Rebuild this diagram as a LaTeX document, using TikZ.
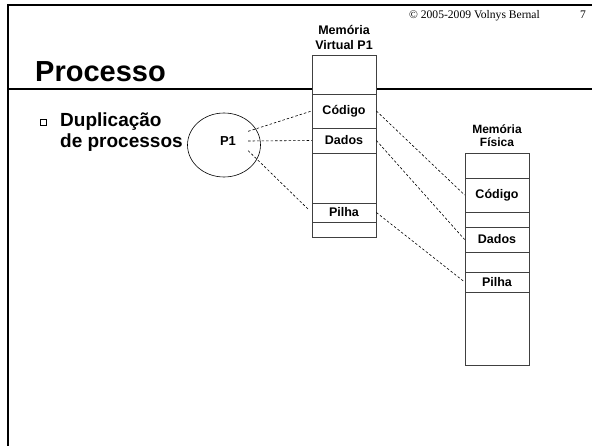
\documentclass[tikz,border=0pt]{standalone}
\usepackage{fontspec}
\setmainfont{Liberation Sans}
\newfontfamily\timesfont{Liberation Serif}
\usetikzlibrary{shapes.geometric,positioning}

\tikzset{
  frameline/.style={line width=2pt},
  membox/.style={draw=black!75, line width=0.8pt, fill=white},
  cell/.style={draw=black!75, line width=0.8pt, minimum width=64pt, inner sep=0pt,
    font=\fontsize{12.5}{12.5}\selectfont\bfseries},
  link/.style={line width=0.6pt, dash pattern=on 2.5pt off 2pt},
  memlabel/.style={align=center, inner sep=0pt, font=\fontsize{12.5}{15}\selectfont\bfseries}
}

\begin{document}
\begin{tikzpicture}[x=1pt,y=-1pt]
    \useasboundingbox (0,0) rectangle (592,446);

    % Slide frame
    \draw[frameline] (7,5) -- (592,5);
    \draw[frameline] (7.5,5) -- (7.5,446);
    \draw[frameline] (7,89) -- (592,89);

    \node[anchor=base, font=\timesfont\fontsize{11.6}{11.6}\selectfont] (copy) at (474.5,19) {© 2005-2009 Volnys Bernal};
    \node[anchor=base, font=\timesfont\fontsize{11.6}{11.6}\selectfont] (page) at (583,19) {7};

    % Title and bullet
    \node[anchor=base west, inner sep=0pt, font=\fontsize{29}{29}\selectfont\bfseries] (title) at (35,82) {Processo};
    \draw[line width=0.6pt] (40,119) rectangle (46,125);
    \draw[line width=1pt] (41,125.5) -- (46.5,125.5) -- (46.5,120);
    \node[anchor=base west, inner sep=0pt, font=\fontsize{19}{19}\selectfont\bfseries] (dup1) at (60,127) {Duplicação};
    \node[anchor=base west, inner sep=0pt, font=\fontsize{19}{19}\selectfont\bfseries] (dup2) at (60,148) {de processos};

    % Process P1
    \node[draw, ellipse, line width=0.6pt, minimum width=73pt, minimum height=64pt] (proc) at (224,145) {};
    \node[inner xsep=12pt, inner ysep=5pt, font=\fontsize{13}{13}\selectfont\bfseries] (p1) at (228,141) {P1};

    % Virtual memory of P1
    \node[memlabel] (vlabel) at (344,37.5) {Memória\\Virtual P1};
    \draw[membox] (312,55) rectangle (376,237);
    \draw[black!75, line width=0.8pt] (312,94) -- (376,94);
    \node[cell, minimum height=34pt] (vcod) at (344,111) {Código};
    \node[cell, minimum height=25pt] (vdat) at (344,140.5) {Dados};
    \node[cell, minimum height=19pt] (vpil) at (344,212.5) {Pilha};

    % Physical memory
    \node[memlabel, font=\fontsize{12}{12.5}\selectfont\bfseries] (flabel) at (497,135.5) {Memória\\Física};
    \draw[membox] (465,153) rectangle (529,365);
    \node[cell, minimum height=34pt] (pcod) at (497,195) {Código};
    \node[cell, minimum height=25pt] (pdat) at (497,239.5) {Dados};
    \node[cell, minimum height=20pt] (ppil) at (497,282) {Pilha};

    % Mappings
    \draw[link] (p1.north east) -- (vcod.west);
    \draw[link] (p1.east) -- (vdat.west);
    \draw[link, shorten >=5pt] (p1.south east) -- (vpil.west);
    \draw[link] (vcod.east) -- (pcod.west);
    \draw[link] (vdat.east) -- (pdat.west);
    \draw[link] (vpil.east) -- (ppil.west);
\end{tikzpicture}
\end{document}
